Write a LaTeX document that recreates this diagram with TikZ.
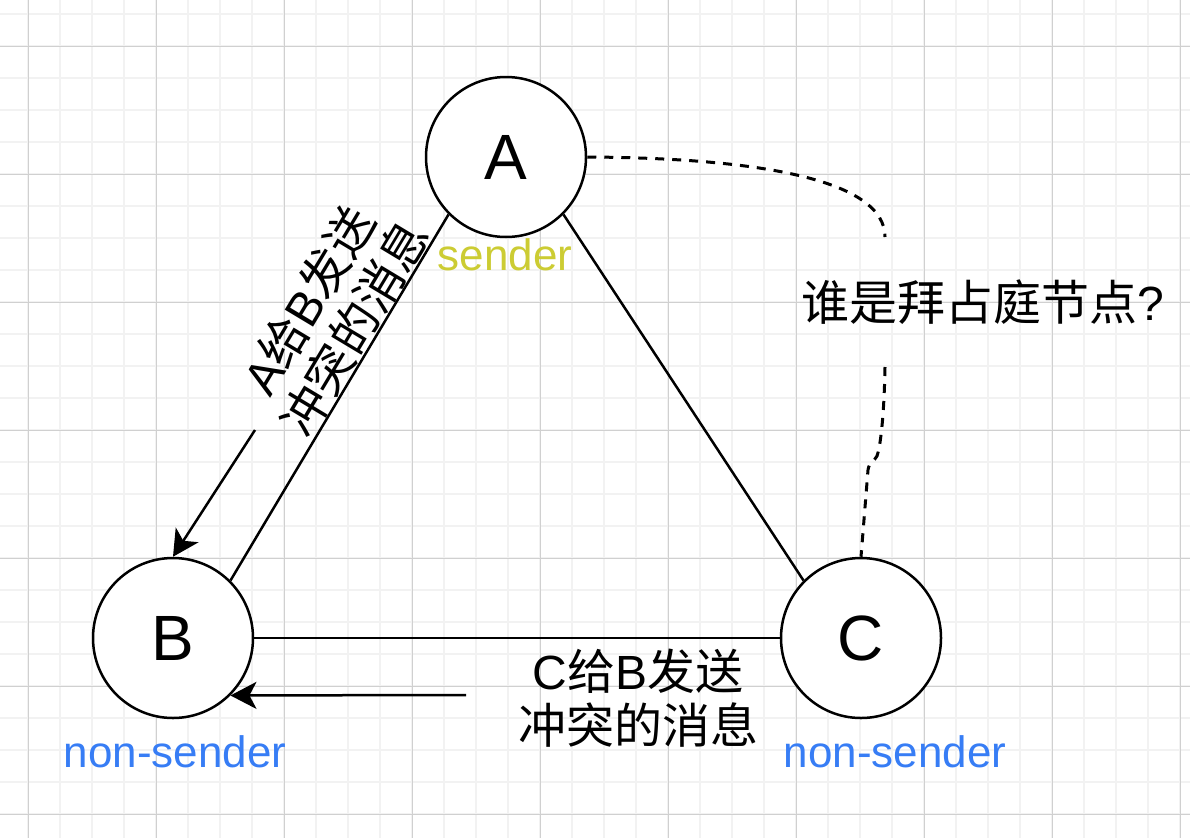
\documentclass[tikz,border=0pt]{standalone}
\usepackage{fontspec}
\setmainfont{Liberation Sans}
\newfontfamily\cjk{Noto Sans CJK SC}
\usetikzlibrary{arrows.meta}
\definecolor{gridminor}{RGB}{242,242,242}
\definecolor{gridmajor}{RGB}{208,208,208}
\definecolor{senderY}{RGB}{204,204,51}
\definecolor{nsBlue}{RGB}{55,125,245}
\tikzset{
  nodecirc/.style={circle,draw=black,line width=2.5pt,fill=white,minimum size=160pt,inner sep=0pt,
    font=\fontsize{64}{70}\selectfont},
  edgeline/.style={line width=2.5pt,draw=black},
  msgarrow/.style={line width=2.5pt,draw=black,-{Stealth[length=26pt,width=27pt,inset=7pt]}},
  dashedge/.style={line width=3pt,draw=black,dash pattern=on 9pt off 8pt},
  lbl/.style={inner sep=0pt,align=center,font=\fontsize{44}{54}\selectfont},
  cjklbl/.style={inner sep=0pt,align=center,font=\fontsize{48}{54}\selectfont},
}
\begin{document}
\begin{tikzpicture}[x=1pt,y=-1pt]
\useasboundingbox (0,0) rectangle (1190,838);
\fill[white] (0,0) rectangle (1190,838);
% grid
\foreach \x in {28,60,...,1190} \draw[gridminor,line width=1.6pt] (\x,0) -- (\x,838);
\foreach \y in {14,46,...,838} \draw[gridminor,line width=1.6pt] (0,\y) -- (1190,\y);
\foreach \x in {28,156,...,1190} \draw[gridmajor,line width=1pt] (\x,0) -- (\x,838);
\foreach \y in {46,174,...,838} \draw[gridmajor,line width=1pt] (0,\y) -- (1190,\y);
% nodes
\node[nodecirc] (A) at (506,157) {A};
\node[nodecirc] (B) at (173,638) {B};
\node[nodecirc] (C) at (861,638) {C};
% triangle edges
\draw[edgeline] (A.south west) -- (B.north east);
\draw[edgeline] (A.south east) -- (C.north west);
\draw[edgeline] (B.east) -- (C.west);
% labels under nodes
\node[lbl,text=senderY,anchor=base] (sA) at (505,270) {sender};
\node[lbl,text=nsBlue,anchor=base] (sB) at (175,767) {non-sender};
\node[lbl,text=nsBlue,anchor=base] (sC) at (895,767) {non-sender};
% question edge
\node[cjklbl] (q) at (983,302) {{\cjk 谁是拜占庭节点}?};
\coordinate (q1) at (885,237);
\coordinate (q2) at (885,367);
\draw[dashedge] (A.east) .. controls (760,158) and (885,180) .. (q1);
\draw[dashedge] (q2) .. controls (884,420) and (880,448) .. (877,456) .. controls (874,462) and (869,462) .. (868,470) -- (C.north);
% message arrows
\coordinate (ab0) at (255,430);
\draw[msgarrow] (ab0) -- (B.north);
\node[cjklbl,rotate=59] (tab) at (331,314) {A{\cjk 给}B{\cjk 发送}\\{\cjk 冲突的消息}};
\coordinate (cb0) at (466,695);
\draw[msgarrow] (cb0) -- (B.south east);
\node[cjklbl] (tcb) at (638,698) {C{\cjk 给}B{\cjk 发送}\\{\cjk 冲突的消息}};
\end{tikzpicture}
\end{document}
